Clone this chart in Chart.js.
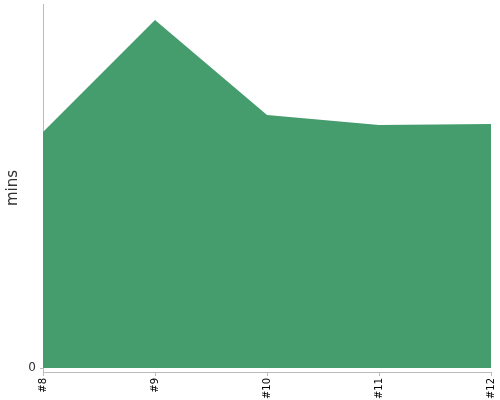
<!DOCTYPE html>
<html>
<head>
<meta charset="utf-8">
<script src="https://cdn.jsdelivr.net/npm/chart.js@4"></script>
<style>
  html, body { margin: 0; padding: 0; background: #fff; }
  #wrap { width: 500px; height: 400px; }
</style>
</head>
<body>
<div id="wrap"><canvas id="chart"></canvas></div>
<script>
// data
const categories = ["#8", "#9", "#10", "#11", "#12"];
const minsValues = [23.6, 34.8, 25.3, 24.3, 24.4];
const yTicks = [0];

const ctx = document.getElementById("chart").getContext("2d");
Chart.defaults.font.family = "'DejaVu Sans', sans-serif";

const chart = new Chart(ctx, {
  type: "line",
  data: {
    labels: categories,
    datasets: [
      {
        label: "mins",
        data: minsValues,
        fill: "origin",
        backgroundColor: "rgb(69,156,109)",
        borderColor: "rgb(69,156,109)",
        borderWidth: 0,
        pointRadius: 0,
        tension: 0,
      },
    ],
  },
  options: {
    responsive: true,
    maintainAspectRatio: false,
    animation: false,
    layout: { padding: { top: 4, right: 9, bottom: 0, left: 0 } },
    plugins: {
      legend: { display: false },
      tooltip: { enabled: false },
    },
    scales: {
      x: {
        offset: false,
        grid: {
          display: true,
          drawOnChartArea: false,
          tickLength: 4,
          color: "#bbb",
        },
        border: { display: true, color: "#bbb" },
        ticks: {
          minRotation: 90,
          maxRotation: 90,
          color: "#000",
          font: { size: 10 },
          padding: 2,
        },
        afterFit: (scale) => {
          scale.height = 28;
          scale.paddingLeft = 0;
          scale.paddingRight = 0;
        },
      },
      y: {
        min: -0.4,
        max: 36.4,
        afterBuildTicks: (scale) => {
          scale.ticks = yTicks.map((v) => ({ value: v }));
        },
        grid: {
          display: true,
          drawOnChartArea: false,
          tickLength: 3,
          color: "#bbb",
        },
        border: { display: true, color: "#bbb" },
        ticks: {
          color: "#333",
          font: { size: 12 },
          padding: 4,
        },
        title: {
          display: true,
          text: "mins",
          color: "#333",
          font: { size: 15 },
          padding: { top: 4, bottom: 0 },
        },
        afterFit: (scale) => {
          scale.width = 43;
          scale.paddingTop = 0;
          scale.paddingBottom = 0;
        },
      },
    },
  },
});
</script>
</body>
</html>
